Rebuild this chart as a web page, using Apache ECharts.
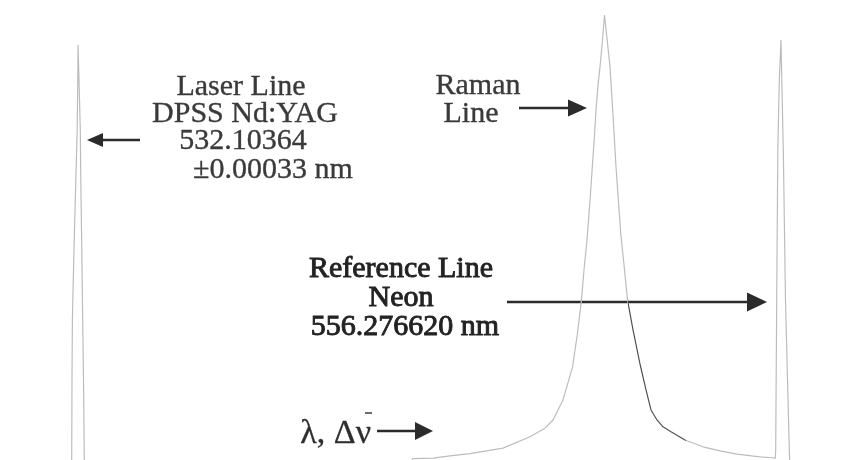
<!DOCTYPE html>
<html>
<head>
<meta charset="utf-8">
<script src="https://cdn.jsdelivr.net/npm/echarts@6/dist/echarts.min.js"></script>
<style>
  html, body { margin: 0; padding: 0; background: #fff; }
  #chart { width: 844px; height: 460px; }
</style>
</head>
<body>
<div id="chart"></div>
<script>
// Spectrum: laser line, Raman band and neon reference line.
// Wavelength in nm, intensity normalised to the Raman maximum.
const laserWavelength = [531.873, 531.887, 531.897, 531.911, 531.966, 532.028, 532.076, 532.097, 532.104,
  532.138, 532.183, 532.200, 532.234, 532.265, 532.293, 532.320, 532.338];
const laserIntensity = [0, 0.022, 0.198, 0.330, 0.484, 0.637, 0.747, 0.857, 0.934,
  0.857, 0.747, 0.637, 0.484, 0.330, 0.198, 0.022, 0];

const ramanWavelength = [543.348, 543.623, 544.311, 544.895, 545.583, 546.718, 547.646, 548.162, 548.437,
  548.781, 549.107, 549.279, 549.417, 549.503, 549.606, 549.709, 549.788, 549.864, 549.915, 549.984,
  550.053, 550.139, 550.208, 550.294, 550.397, 550.490, 550.603, 550.765, 550.878, 550.999, 551.188,
  551.428, 551.635, 551.807, 552.013, 552.219, 552.494, 552.976, 553.595, 554.179, 554.764, 555.555,
  555.967];
const ramanIntensity = [0, 0.025, 0.026, 0.031, 0.036, 0.048, 0.073, 0.092, 0.110,
  0.154, 0.226, 0.301, 0.374, 0.440, 0.505, 0.593, 0.666, 0.736, 0.791, 0.846,
  0.886, 0.945, 1.000, 0.949, 0.886, 0.791, 0.666, 0.521, 0.451, 0.374, 0.308,
  0.233, 0.176, 0.132, 0.110, 0.095, 0.084, 0.066, 0.051, 0.042, 0.035, 0.029,
  0.027];

const neonWavelength = [556.081, 556.094, 556.129, 556.167, 556.218, 556.2766, 556.304, 556.356, 556.431,
  556.562, 556.586, 558.443];
const neonIntensity = [0.026, 0.044, 0.374, 0.703, 0.857, 0.945, 0.857, 0.703, 0.374,
  0.044, 0, 0];

const wavelengthRange = [529.4216, 558.4429];
// Lower edge of the plotted intensity window (the true baseline sits just below it)
const intensityFloor = 0.022;
// Stretch of the Raman band's red flank that is traced darker
const darkFlank = [550.999, 553.0];

const spectrum = []
  .concat(laserWavelength.map((w, i) => [w, laserIntensity[i]]))
  .concat(ramanWavelength.map((w, i) => [w, ramanIntensity[i]]))
  .concat(neonWavelength.map((w, i) => [w, neonIntensity[i]]));

const SERIF = "'Liberation Serif', 'Times New Roman', serif";
const INK = '#2b2b2b';

function label(text, x, y, size, color, weight, align) {
  const a = align || 'center';
  return {
    type: 'text', x: x, y: y, silent: true,
    style: {
      text: text,
      fontFamily: SERIF, fontSize: size,
      fill: color,
      stroke: color, lineWidth: weight,
      align: a, verticalAlign: 'middle',
      textAlign: a, textVerticalAlign: 'middle'
    }
  };
}

// Horizontal arrow: tail x, tip x, y, head length, head half-height
function arrow(x0, x1, y, headLen, headHalf) {
  const dir = x1 > x0 ? 1 : -1;
  const base = x1 - dir * headLen;
  return [
    { type: 'line', silent: true,
      shape: { x1: x0, y1: y, x2: base + dir * 2, y2: y },
      style: { stroke: INK, lineWidth: 2.4 } },
    { type: 'polygon', silent: true,
      shape: { points: [[x1, y], [base, y - headHalf], [base, y + headHalf]] },
      style: { fill: INK } }
  ];
}

const graphics = [
  label('Laser Line', 241, 87, 30, '#3a3a3a', 0.35),
  label('DPSS Nd:YAG', 245, 114, 30, '#3a3a3a', 0.35),
  label('532.10364', 243, 141, 30, '#3a3a3a', 0.35),
  label('\u00b10.00033 nm', 273, 170, 30, '#3a3a3a', 0.35),
  label('Raman', 478, 86, 30, '#3a3a3a', 0.35),
  label('Line', 471, 114, 30, '#3a3a3a', 0.35),
  label('Reference Line', 401, 269, 30, '#222', 0.9),
  label('Neon', 401, 298, 30, '#222', 0.9),
  label('556.276620 nm', 405, 327, 30, '#222', 0.9),
  label('\u03bb, \u0394\u03bd', 371, 434, 34, '#2e2e2e', 0.3, 'right'),
  { type: 'line', silent: true, shape: { x1: 365, y1: 413, x2: 372, y2: 413 },
    style: { stroke: '#2e2e2e', lineWidth: 1.4 } }
]
  .concat(arrow(140, 87, 140, 16, 7))
  .concat(arrow(519, 587, 108, 19, 8.5))
  .concat(arrow(507, 767, 302, 20, 9.5))
  .concat(arrow(377, 433, 431, 18, 9));

const chart = echarts.init(document.getElementById('chart'), null, { renderer: 'canvas' });
chart.setOption({
  animation: false,
  backgroundColor: '#fff',
  grid: { left: 0, right: 0, top: 15, bottom: 0 },
  xAxis: { type: 'value', min: wavelengthRange[0], max: wavelengthRange[1], show: false },
  yAxis: { type: 'value', min: intensityFloor, max: 1, show: false },
  visualMap: {
    show: false, type: 'piecewise', dimension: 0, seriesIndex: 0,
    pieces: [
      { lt: darkFlank[0], color: '#bcbcbc' },
      { gte: darkFlank[0], lt: darkFlank[1], color: '#505050' },
      { gte: darkFlank[1], color: '#bcbcbc' }
    ]
  },
  series: [{
    type: 'line',
    data: spectrum,
    showSymbol: false,
    clip: true,
    lineStyle: { width: 1.2 },
    silent: true
  }],
  graphic: graphics
});
</script>
</body>
</html>
